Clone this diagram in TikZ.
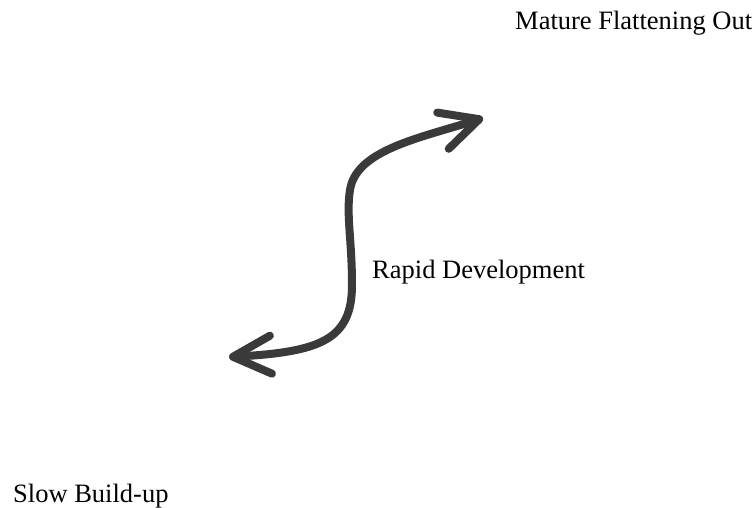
\documentclass[tikz,border=0pt]{standalone}
\usepackage{fontspec}
\setmainfont{Liberation Serif}
\usetikzlibrary{arrows.meta}
\definecolor{arrowgray}{HTML}{3A3A3A}
\begin{document}
\begin{tikzpicture}
		[x=1pt,y=-1pt,
		phase/.style={anchor=base west,inner sep=0pt,font=\fontsize{26.5}{30}\selectfont},
		barb/.tip={Straight Barb[length=38pt,width=38pt,round]},
		curvestyle/.style={barb-barb,line width=8pt,arrowgray,line cap=round,line join=round}]
		\useasboundingbox (0,0) rectangle (756,508);
		\node at (515, 29.5) (mature) [phase] {Mature Flattening Out};
		\node at (372, 279) (rapid) [phase] {Rapid Development};
		\node at (13, 502) (slow) [phase] {Slow Build-up};
		\coordinate (low) at (229, 357);
		\coordinate (high) at (483, 118);
		\draw[curvestyle] (low) .. controls (320, 352) and (352, 340) .. (352, 285)
			.. controls (352, 240) and (346, 215) .. (350, 190)
			.. controls (356, 150) and (420, 138) .. (high);
	\end{tikzpicture}
\end{document}
